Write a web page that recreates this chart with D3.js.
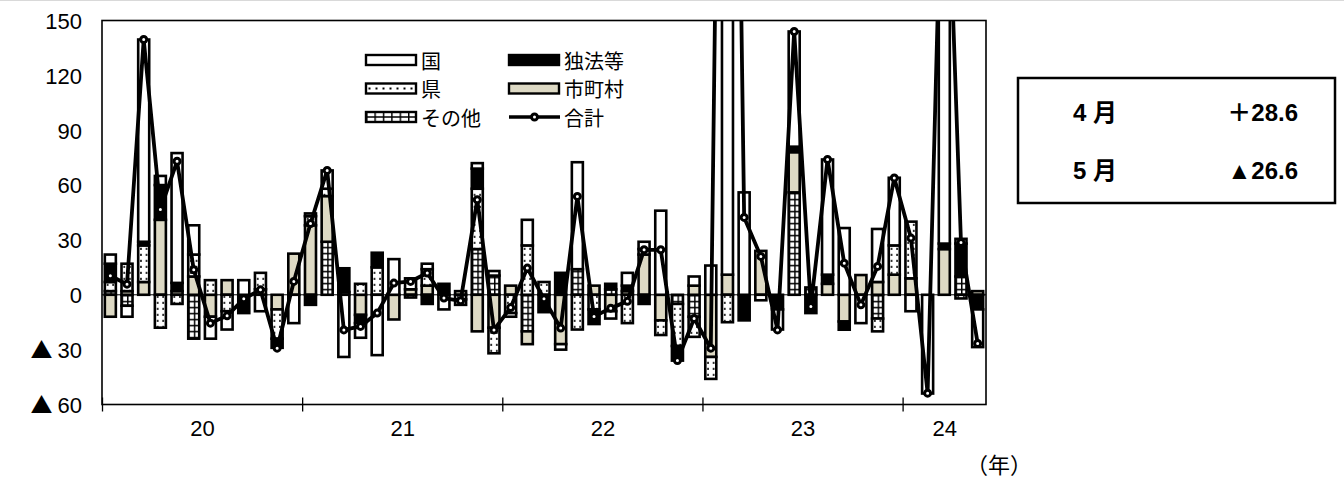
<!DOCTYPE html>
<html>
<head>
<meta charset="utf-8">
<script src="https://cdn.jsdelivr.net/npm/d3@7"></script>
<style>
  body { margin: 0; background: #fff; }
  text { font-family: "Liberation Sans", "Noto Sans CJK JP", sans-serif; fill: #000; }
</style>
</head>
<body>
<svg id="chart" width="1344" height="479"></svg>
<script>
// month categories, Jan 2020 .. May 2024
const months = [];
for (let yr = 2020; yr <= 2024; yr++) {
  for (let m = 1; m <= 12; m++) {
    if (yr === 2024 && m > 5) break;
    months.push(yr + "-" + m);
  }
}

// values (前年同月比, %)
const sonota   = [2,-6,0,0,0,-24,0,0,0,0,0,0, 0,29,0,0,0,0,0,0,0,0,25,10.5, 0,-20,0,0,14,0,3,0,0,0,-5,-12, 0,0,0,0,0,56,4,0,0,0,-13,0, 0,0,0,10,0];
const shichoson= [-12,2,7,41,2,10,-12,8,0,3,-8,22.5, 38,25,0,-11,0,-13.5,3,5,0,2,-20,-18, 5,-7,0,-27,0,5,-9,2,22,-14,0,5, -34,11,0,24,0,22,0,6,-14.6,10.8,7,11, 9,0,25,0,2];
const ken      = [5,15,20,-18,-5,12,8,-9,0,9,-16,0, 5,4,1.5,6,15,0,-1.5,9,0,-2.5,33,-14, -10,27,7,0,-19,-8,0,-15.5,3,-8,-23,-11, -12,-15,0,0,0,0,0,0,0,0,-7,16, 31,0,0,-2,0];
const dokuho   = [10,0,2,19,4.5,0,0,0,-10,0,-5,0, -5.5,0,13,-4.5,8,0,0,-5,6,0,11,0, 0,0,-9.5,12,0,-8,3,3,-5,0,-8,0, 0,0,-14,0,-8,3,-10,5,-4.5,0,0,0, 0,0,3,18,-8];
const kuni     = [5,-6,110.6,5,71,16,-12,-10,8,-9,0,-15.5, 1.5,10,-34,-8,-33,19.5,6,3,-8,-3,3,2.5, -2,14,0,-3,58.5,0,-4,7,4,46,0,5, 16,700,56,-3,-11,63,0,63,36.5,-15.5,29,37, -9,-54,262,2.6,-20.6];
const total    = [10.4,5.8,139.6,46.7,73,13.7,-15.5,-11.5,-2.2,2.7,-29.2,7.3, 39,68,-19.2,-17.3,-10,6.4,7.3,11.9,-1.8,-3.3,52,-19.2, -7,14.6,-2.2,-18.2,53.8,-11.9,-7.3,-3.6,24.6,24.6,-36,-13, -29.2,696,42.3,21,-19.2,144,-6.4,74,17.3,-5.5,15.5,63.9, 31,-53.8,290,28.6,-26.6];

const yearLabels = ["20", "21", "22", "23", "24"];
const yearStarts = [0, 12, 24, 36, 48];
const yTicks = [-60, -30, 0, 30, 60, 90, 120, 150];

const keys = ["その他", "市町村", "県", "独法等", "国"];
const seriesByKey = { "その他": sonota, "市町村": shichoson, "県": ken, "独法等": dokuho, "国": kuni };
const fills = {
  "その他": "url(#pat-grid)",
  "市町村": "#ddd9c4",
  "県": "url(#pat-dots)",
  "独法等": "#000",
  "国": "#fff",
};

const rows = months.map((m, i) => {
  const r = { month: m };
  keys.forEach((k) => { r[k] = seriesByKey[k][i]; });
  return r;
});

const svg = d3.select("#chart");
const plot = { left: 102, right: 986, top: 20.5, bottom: 404.5 };

const x = d3.scaleBand()
  .domain(months)
  .range([plot.left, plot.right])
  .paddingInner(0.34)
  .paddingOuter(0.17);
const xIdx = d3.scaleLinear().domain([0, months.length]).range([plot.left, plot.right]);
const y = d3.scaleLinear().domain([-60, 150]).range([plot.bottom, plot.top]);

// defs: patterns aligned to the bars (period = a third of a month step)
const defs = svg.append("defs");
const pw = x.step() / 3;
const x0 = x(months[0]);

const dots = defs.append("pattern").attr("id", "pat-dots")
  .attr("patternUnits", "userSpaceOnUse")
  .attr("x", x0).attr("y", y(0))
  .attr("width", pw).attr("height", 6);
dots.append("rect").attr("width", pw).attr("height", 6).attr("fill", "#fff");
dots.append("rect").attr("x", pw / 2 - 0.9).attr("y", 1.2).attr("width", 1.8).attr("height", 1.8).attr("fill", "#000");

const grid = defs.append("pattern").attr("id", "pat-grid")
  .attr("patternUnits", "userSpaceOnUse")
  .attr("x", x0).attr("y", y(0))
  .attr("width", pw).attr("height", 6);
grid.append("rect").attr("width", pw).attr("height", 6).attr("fill", "#fff");
grid.append("path").attr("d", `M0,0.7H${pw}M0.7,0V6`).attr("stroke", "#000").attr("stroke-width", 1.5);

// legend swatch versions
const dotsL = defs.append("pattern").attr("id", "pat-dots-l")
  .attr("patternUnits", "userSpaceOnUse").attr("x", 366).attr("y", 83.5)
  .attr("width", 7).attr("height", 10);
dotsL.append("rect").attr("width", 7).attr("height", 10).attr("fill", "#fff");
dotsL.append("rect").attr("x", 2.5).attr("y", 4).attr("width", 2).attr("height", 2).attr("fill", "#000");
const gridL = defs.append("pattern").attr("id", "pat-grid-l")
  .attr("patternUnits", "userSpaceOnUse").attr("x", 366).attr("y", 112)
  .attr("width", 8.4).attr("height", 10);
gridL.append("rect").attr("width", 8.4).attr("height", 10).attr("fill", "#fff");
gridL.append("path").attr("d", "M0,5H8.4M0.7,0V10").attr("stroke", "#000").attr("stroke-width", 1.5);

defs.append("clipPath").attr("id", "plotClip")
  .append("rect")
  .attr("x", plot.left).attr("y", plot.top)
  .attr("width", plot.right - plot.left).attr("height", plot.bottom - plot.top);

// faint rule across the very top
svg.append("line").attr("x1", 0).attr("x2", 1344).attr("y1", 0.5).attr("y2", 0.5)
  .attr("stroke", "#d9d9d9").attr("stroke-width", 1);

// stacked bars (positive and negative stacks)
const layers = d3.stack().keys(keys).offset(d3.stackOffsetDiverging)(rows);

const gBars = svg.append("g").attr("clip-path", "url(#plotClip)");
gBars.selectAll("g.layer")
  .data(layers)
  .join("g")
  .attr("class", "layer")
  .attr("fill", (d) => fills[d.key])
  .selectAll("rect")
  .data((d) => d.filter((s) => s[1] !== s[0]))
  .join("rect")
  .attr("x", (d) => x(d.data.month))
  .attr("width", x.bandwidth())
  .attr("y", (d) => y(Math.max(d[0], d[1])))
  .attr("height", (d) => Math.abs(y(d[0]) - y(d[1])))
  .attr("stroke", "#000")
  .attr("stroke-width", 2.6);

// zero line
svg.append("line")
  .attr("x1", plot.left).attr("x2", plot.right)
  .attr("y1", y(0)).attr("y2", y(0))
  .attr("stroke", "#000").attr("stroke-width", 1);

// total line
const cx = (i) => x(months[i]) + x.bandwidth() / 2;
const gLine = svg.append("g").attr("clip-path", "url(#plotClip)");
gLine.append("path")
  .datum(total)
  .attr("fill", "none")
  .attr("stroke", "#000")
  .attr("stroke-width", 3.8)
  .attr("stroke-linejoin", "round")
  .attr("d", d3.line().x((d, i) => cx(i)).y((d) => y(d)));
gLine.selectAll("circle")
  .data(total)
  .join("circle")
  .attr("cx", (d, i) => cx(i))
  .attr("cy", (d) => y(d))
  .attr("r", 3)
  .attr("fill", "#fff")
  .attr("stroke", "#000")
  .attr("stroke-width", 3);

// plot border
svg.append("rect")
  .attr("x", plot.left).attr("y", plot.top)
  .attr("width", plot.right - plot.left).attr("height", plot.bottom - plot.top)
  .attr("fill", "none").attr("stroke", "#000").attr("stroke-width", 1.6);

// y axis labels (▲ marks negatives)
const yAxis = svg.append("g")
  .attr("transform", `translate(${plot.left},0)`)
  .call(d3.axisLeft(y).tickValues(yTicks).tickSize(0).tickPadding(20).tickFormat(""));
yAxis.select(".domain").remove();
yAxis.selectAll(".tick text").each(function (d) {
  const t = d3.select(this)
    .attr("font-size", 22).attr("dy", "0.36em")
    .style("font-family", '"Liberation Sans", sans-serif');
  if (d < 0) {
    t.append("tspan").style("font-family", '"Noto Sans CJK JP", sans-serif').text("▲ ");
    t.append("tspan").text(-d);
  } else {
    t.text(d);
  }
});

// year boundary ticks
const xTicks = svg.append("g")
  .attr("transform", `translate(0,${plot.bottom})`)
  .call(d3.axisBottom(xIdx).tickValues(yearStarts).tickSizeOuter(0).tickFormat(""));
xTicks.select(".domain").remove();
xTicks.selectAll(".tick line").attr("y1", -7).attr("y2", 7).attr("stroke-width", 1.3);

// year labels centred in each year's span
const yearCenters = yearStarts.map((s, i) => (s + (yearStarts[i + 1] ?? months.length)) / 2);
const xLabels = svg.append("g")
  .attr("transform", `translate(0,${plot.bottom})`)
  .call(d3.axisBottom(xIdx).tickValues(yearCenters).tickSize(0).tickPadding(16)
    .tickFormat((d, i) => yearLabels[i]));
xLabels.select(".domain").remove();
xLabels.selectAll("text").attr("font-size", 22)
  .style("font-family", '"Liberation Sans", sans-serif');

svg.append("text")
  .attr("x", 999).attr("y", 463)
  .attr("text-anchor", "middle").attr("dominant-baseline", "central")
  .attr("font-size", 22)
  .style("font-family", '"Noto Sans CJK JP", sans-serif')
  .text("（年）");

// legend
const legendItems = [
  { key: "国", col: 0, row: 0, fill: "#fff" },
  { key: "県", col: 0, row: 1, fill: "url(#pat-dots-l)" },
  { key: "その他", col: 0, row: 2, fill: "url(#pat-grid-l)" },
  { key: "独法等", col: 1, row: 0, fill: "#000" },
  { key: "市町村", col: 1, row: 1, fill: "#ddd9c4" },
  { key: "合計", col: 1, row: 2 },
];
const legCols = [366, 509];
const legRows = [60, 88.5, 117];
const gLeg = svg.append("g");
legendItems.forEach((it) => {
  const lx = legCols[it.col];
  const ly = legRows[it.row];
  if (it.key === "合計") {
    gLeg.append("line").attr("x1", lx).attr("x2", lx + 51).attr("y1", ly).attr("y2", ly)
      .attr("stroke", "#000").attr("stroke-width", 3.5);
    gLeg.append("circle").attr("cx", lx + 25.5).attr("cy", ly).attr("r", 3)
      .attr("fill", "#fff").attr("stroke", "#000").attr("stroke-width", 3);
  } else {
    gLeg.append("rect").attr("x", lx).attr("y", ly - 5).attr("width", 50).attr("height", 10)
      .attr("fill", it.fill).attr("stroke", "#000").attr("stroke-width", 2.4);
  }
  gLeg.append("text").attr("x", lx + 55).attr("y", ly)
    .attr("dominant-baseline", "central").attr("font-size", 20)
    .style("font-family", '"Noto Sans CJK JP", sans-serif')
    .text(it.key);
});

// side box with latest months
const boxRows = [
  { label: "4 月", value: "＋28.6", y: 112 },
  { label: "5 月", value: "▲26.6", y: 170 },
];
const gBox = svg.append("g");
gBox.append("rect").attr("x", 1018).attr("y", 78).attr("width", 317).attr("height", 125)
  .attr("fill", "none").attr("stroke", "#000").attr("stroke-width", 2.5);
boxRows.forEach((r) => {
  gBox.append("text").attr("x", 1073).attr("y", r.y)
    .attr("dominant-baseline", "central").attr("font-size", 24).attr("font-weight", "bold")
    .text(r.label);
  gBox.append("text").attr("x", 1298).attr("y", r.y)
    .attr("text-anchor", "end").attr("dominant-baseline", "central")
    .attr("font-size", 24).attr("font-weight", "bold")
    .text(r.value);
});
</script>
</body>
</html>
